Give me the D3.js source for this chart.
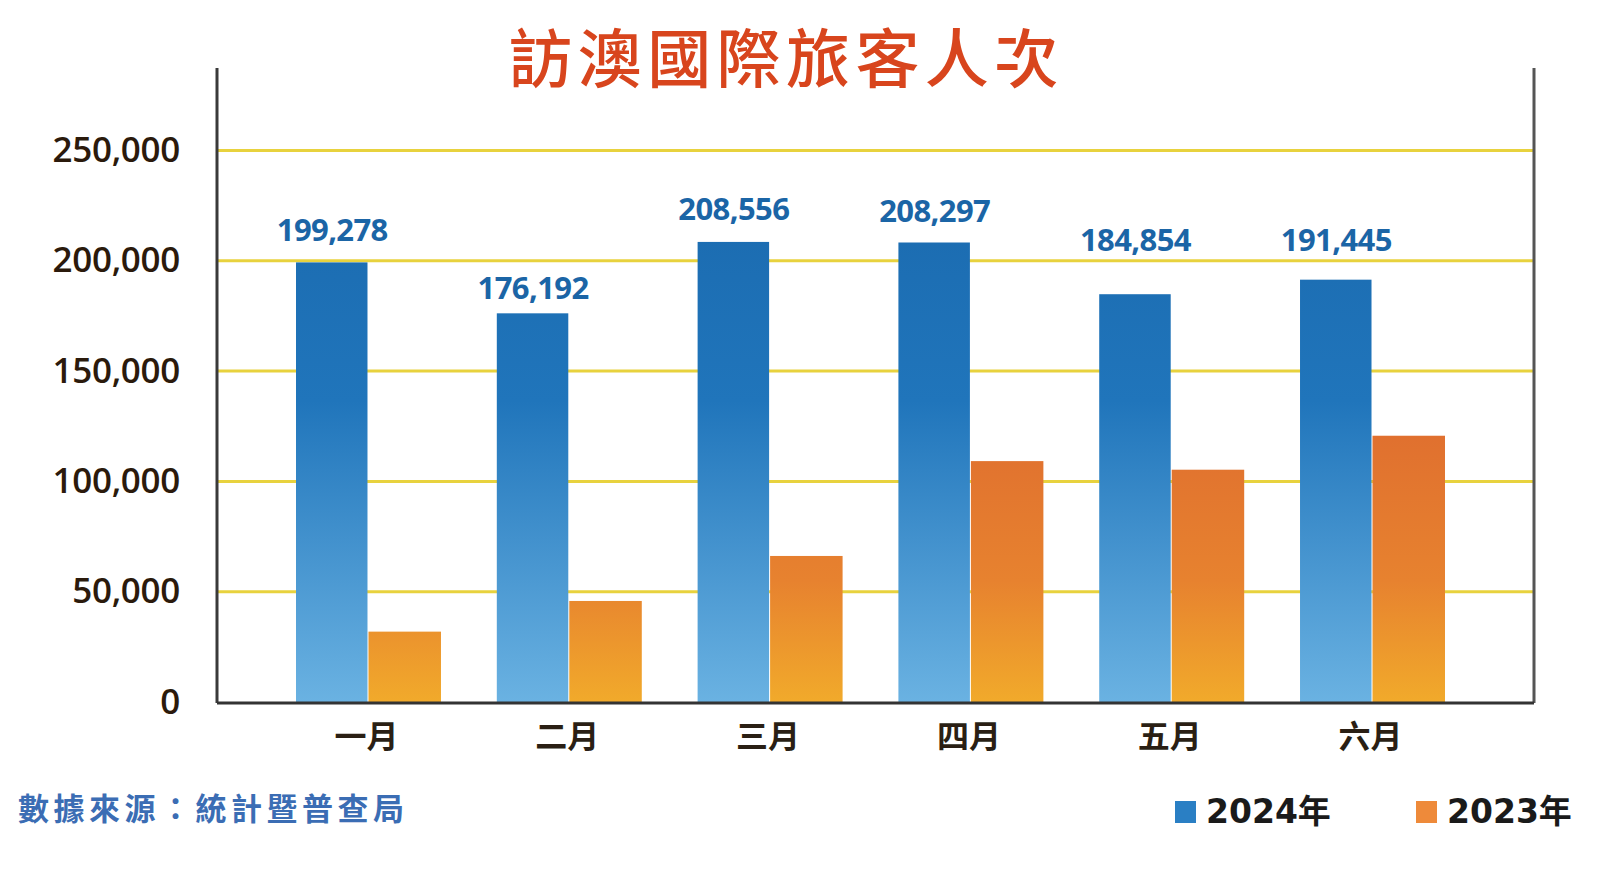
<!DOCTYPE html>
<html>
<head>
<meta charset="utf-8">
<script src="https://cdn.jsdelivr.net/npm/d3@7"></script>
<style>
  html, body { margin: 0; padding: 0; background: #ffffff; }
  svg { display: block; }
</style>
</head>
<body>
<svg id="chart" width="1600" height="870"></svg>
<script>
// ---- data ----
const months = ["一月", "二月", "三月", "四月", "五月", "六月"];
const series = ["2024年", "2023年"];
const values2024 = [199278, 176192, 208556, 208297, 184854, 191445];
const values2023 = [31900, 45800, 66200, 109200, 105300, 120700];
const yTicks = [0, 50000, 100000, 150000, 200000, 250000];
const titleText = "訪澳國際旅客人次";
const sourceText = "數據來源：統計暨普查局";

const svg = d3.select("#chart");
const cjk = "'Noto Sans CJK TC', 'Noto Sans CJK SC', sans-serif";
const num = "'Open Sans', 'Noto Sans', sans-serif";

// layout
const plotLeft = 217, plotRight = 1534, plotTop = 68, baseY = 702;
const labelLift = [21, 14, 22, 20, 43, 29]; // distance of value-label baseline above bar top

const y = d3.scaleLinear().domain([0, 250000]).range([baseY, 150.5]);
const x0 = d3.scaleBand().domain(months).range([296, 1445]).paddingInner(0.278).paddingOuter(0);
const x1 = d3.scaleBand().domain(series).range([0, x0.bandwidth()]);

// gradients
const defs = svg.append("defs");
const gBlue = defs.append("linearGradient").attr("id", "gBlue")
  .attr("gradientUnits", "userSpaceOnUse").attr("x1", 0).attr("x2", 0)
  .attr("y1", y(210000)).attr("y2", y(0));
gBlue.append("stop").attr("offset", 0).attr("stop-color", "#1c6db2");
gBlue.append("stop").attr("offset", 0.35).attr("stop-color", "#2075bb");
gBlue.append("stop").attr("offset", 1).attr("stop-color", "#6ab2e2");
const gOr = defs.append("linearGradient").attr("id", "gOr")
  .attr("gradientUnits", "userSpaceOnUse").attr("x1", 0).attr("x2", 0)
  .attr("y1", y(122000)).attr("y2", y(0));
gOr.append("stop").attr("offset", 0).attr("stop-color", "#e0702f");
gOr.append("stop").attr("offset", 0.55).attr("stop-color", "#e7822f");
gOr.append("stop").attr("offset", 1).attr("stop-color", "#f1aa2b");

// gridlines
svg.append("g").selectAll("line").data(yTicks.filter(d => d > 0)).join("line")
  .attr("x1", plotLeft).attr("x2", plotRight)
  .attr("y1", d => y(d)).attr("y2", d => y(d))
  .attr("stroke", "#e8d23e").attr("stroke-width", 3);

// y axis labels
svg.append("g").selectAll("text").data(yTicks).join("text")
  .attr("x", 180).attr("y", d => y(d) - 2)
  .attr("text-anchor", "end").attr("dominant-baseline", "central")
  .attr("font-family", num).attr("font-weight", 600).attr("font-size", 35)
  .attr("letter-spacing", -0.3)
  .attr("fill", "#2b1a0c")
  .text(d => d3.format(",")(d));

// bars
const groups = svg.append("g").selectAll("g").data(months).join("g")
  .attr("transform", d => `translate(${x0(d)},0)`);
groups.append("rect")
  .attr("x", x1("2024年")).attr("width", x1.bandwidth() - 1)
  .attr("y", (d, i) => y(values2024[i])).attr("height", (d, i) => baseY - y(values2024[i]))
  .attr("fill", "url(#gBlue)");
groups.append("rect")
  .attr("x", x1("2023年")).attr("width", x1.bandwidth())
  .attr("y", (d, i) => y(values2023[i])).attr("height", (d, i) => baseY - y(values2023[i]))
  .attr("fill", "url(#gOr)");

// value labels
groups.append("text")
  .attr("x", x1("2024年") + x1.bandwidth() / 2)
  .attr("y", (d, i) => y(values2024[i]) - labelLift[i])
  .attr("text-anchor", "middle")
  .attr("font-family", num).attr("font-weight", 700).attr("font-size", 31)
  .attr("letter-spacing", -0.6)
  .attr("fill", "#1b65a6")
  .text((d, i) => d3.format(",")(values2024[i]));

// axes lines
svg.append("line").attr("x1", plotLeft).attr("x2", plotLeft).attr("y1", plotTop).attr("y2", baseY + 1)
  .attr("stroke", "#3a3a3a").attr("stroke-width", 3);
svg.append("line").attr("x1", plotRight).attr("x2", plotRight).attr("y1", plotTop).attr("y2", baseY + 1)
  .attr("stroke", "#555555").attr("stroke-width", 3);
svg.append("line").attr("x1", plotLeft).attr("x2", plotRight).attr("y1", baseY + 1).attr("y2", baseY + 1)
  .attr("stroke", "#333333").attr("stroke-width", 3);

// x labels
svg.append("g").selectAll("text").data(months).join("text")
  .attr("x", d => x0(d) + x0.bandwidth() / 2 - 2)
  .attr("y", 734)
  .attr("text-anchor", "middle").attr("dominant-baseline", "central")
  .attr("font-family", cjk).attr("font-weight", 700).attr("font-size", 32)
  .attr("fill", "#2a1f14")
  .text(d => d);

// title
svg.append("text").attr("x", 786).attr("y", 54)
  .attr("text-anchor", "middle").attr("dominant-baseline", "central")
  .attr("font-family", cjk).attr("font-weight", 500).attr("font-size", 64)
  .attr("letter-spacing", 5.4)
  .attr("fill", "#d8451d")
  .text(titleText);

// source
svg.append("text").attr("x", 18).attr("y", 806)
  .attr("dominant-baseline", "central")
  .attr("font-family", cjk).attr("font-weight", 700).attr("font-size", 31)
  .attr("letter-spacing", 4.5)
  .attr("fill", "#3b6db4")
  .text(sourceText);

// legend
const legendX = [1175, 1416];
const legendColors = ["#2a7fc4", "#ee8a3a"];
const lg = svg.append("g").selectAll("g").data(series).join("g")
  .attr("transform", (d, i) => `translate(${legendX[i]},0)`);
lg.append("rect").attr("x", 0).attr("y", 801).attr("width", 21).attr("height", 22)
  .attr("fill", (d, i) => legendColors[i]);
lg.append("text").attr("x", 31).attr("y", 811)
  .attr("dominant-baseline", "central")
  .attr("font-family", "'DejaVu Sans', 'Noto Sans CJK TC', sans-serif").attr("font-weight", 700).attr("font-size", 33)
  .attr("fill", "#1a1a1a")
  .text(d => d);
</script>
</body>
</html>
